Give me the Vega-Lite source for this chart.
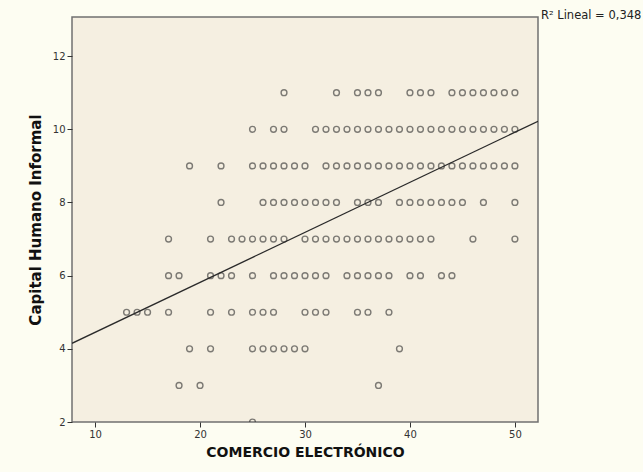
{
  "$schema": "https://vega.github.io/schema/vega-lite/v6.json",
  "width": 466,
  "height": 405,
  "autosize": "none",
  "padding": {"left": 72, "top": 17, "right": 105, "bottom": 50},
  "background": "#FDFDF2",
  "datasets": {
    "points": [
      {"comercio": 28, "capital": 11}, {"comercio": 33, "capital": 11}, {"comercio": 35, "capital": 11}, {"comercio": 36, "capital": 11}, {"comercio": 37, "capital": 11}, {"comercio": 40, "capital": 11}, {"comercio": 41, "capital": 11}, {"comercio": 42, "capital": 11}, {"comercio": 44, "capital": 11}, {"comercio": 45, "capital": 11}, {"comercio": 46, "capital": 11}, {"comercio": 47, "capital": 11}, {"comercio": 48, "capital": 11}, {"comercio": 49, "capital": 11}, {"comercio": 50, "capital": 11},
      {"comercio": 25, "capital": 10}, {"comercio": 27, "capital": 10}, {"comercio": 28, "capital": 10}, {"comercio": 31, "capital": 10}, {"comercio": 32, "capital": 10}, {"comercio": 33, "capital": 10}, {"comercio": 34, "capital": 10}, {"comercio": 35, "capital": 10}, {"comercio": 36, "capital": 10}, {"comercio": 37, "capital": 10}, {"comercio": 38, "capital": 10}, {"comercio": 39, "capital": 10}, {"comercio": 40, "capital": 10}, {"comercio": 41, "capital": 10}, {"comercio": 42, "capital": 10}, {"comercio": 43, "capital": 10}, {"comercio": 44, "capital": 10}, {"comercio": 45, "capital": 10}, {"comercio": 46, "capital": 10}, {"comercio": 47, "capital": 10}, {"comercio": 48, "capital": 10}, {"comercio": 49, "capital": 10}, {"comercio": 50, "capital": 10},
      {"comercio": 19, "capital": 9}, {"comercio": 22, "capital": 9}, {"comercio": 25, "capital": 9}, {"comercio": 26, "capital": 9}, {"comercio": 27, "capital": 9}, {"comercio": 28, "capital": 9}, {"comercio": 29, "capital": 9}, {"comercio": 30, "capital": 9}, {"comercio": 32, "capital": 9}, {"comercio": 33, "capital": 9}, {"comercio": 34, "capital": 9}, {"comercio": 35, "capital": 9}, {"comercio": 36, "capital": 9}, {"comercio": 37, "capital": 9}, {"comercio": 38, "capital": 9}, {"comercio": 39, "capital": 9}, {"comercio": 40, "capital": 9}, {"comercio": 41, "capital": 9}, {"comercio": 42, "capital": 9}, {"comercio": 43, "capital": 9}, {"comercio": 44, "capital": 9}, {"comercio": 45, "capital": 9}, {"comercio": 46, "capital": 9}, {"comercio": 47, "capital": 9}, {"comercio": 48, "capital": 9}, {"comercio": 49, "capital": 9}, {"comercio": 50, "capital": 9},
      {"comercio": 22, "capital": 8}, {"comercio": 26, "capital": 8}, {"comercio": 27, "capital": 8}, {"comercio": 28, "capital": 8}, {"comercio": 29, "capital": 8}, {"comercio": 30, "capital": 8}, {"comercio": 31, "capital": 8}, {"comercio": 32, "capital": 8}, {"comercio": 33, "capital": 8}, {"comercio": 35, "capital": 8}, {"comercio": 36, "capital": 8}, {"comercio": 37, "capital": 8}, {"comercio": 39, "capital": 8}, {"comercio": 40, "capital": 8}, {"comercio": 41, "capital": 8}, {"comercio": 42, "capital": 8}, {"comercio": 43, "capital": 8}, {"comercio": 44, "capital": 8}, {"comercio": 45, "capital": 8}, {"comercio": 47, "capital": 8}, {"comercio": 50, "capital": 8},
      {"comercio": 17, "capital": 7}, {"comercio": 21, "capital": 7}, {"comercio": 23, "capital": 7}, {"comercio": 24, "capital": 7}, {"comercio": 25, "capital": 7}, {"comercio": 26, "capital": 7}, {"comercio": 27, "capital": 7}, {"comercio": 28, "capital": 7}, {"comercio": 30, "capital": 7}, {"comercio": 31, "capital": 7}, {"comercio": 32, "capital": 7}, {"comercio": 33, "capital": 7}, {"comercio": 34, "capital": 7}, {"comercio": 35, "capital": 7}, {"comercio": 36, "capital": 7}, {"comercio": 37, "capital": 7}, {"comercio": 38, "capital": 7}, {"comercio": 39, "capital": 7}, {"comercio": 40, "capital": 7}, {"comercio": 41, "capital": 7}, {"comercio": 42, "capital": 7}, {"comercio": 46, "capital": 7}, {"comercio": 50, "capital": 7},
      {"comercio": 17, "capital": 6}, {"comercio": 18, "capital": 6}, {"comercio": 21, "capital": 6}, {"comercio": 22, "capital": 6}, {"comercio": 23, "capital": 6}, {"comercio": 25, "capital": 6}, {"comercio": 27, "capital": 6}, {"comercio": 28, "capital": 6}, {"comercio": 29, "capital": 6}, {"comercio": 30, "capital": 6}, {"comercio": 31, "capital": 6}, {"comercio": 32, "capital": 6}, {"comercio": 34, "capital": 6}, {"comercio": 35, "capital": 6}, {"comercio": 36, "capital": 6}, {"comercio": 37, "capital": 6}, {"comercio": 38, "capital": 6}, {"comercio": 40, "capital": 6}, {"comercio": 41, "capital": 6}, {"comercio": 43, "capital": 6}, {"comercio": 44, "capital": 6},
      {"comercio": 13, "capital": 5}, {"comercio": 14, "capital": 5}, {"comercio": 15, "capital": 5}, {"comercio": 17, "capital": 5}, {"comercio": 21, "capital": 5}, {"comercio": 23, "capital": 5}, {"comercio": 25, "capital": 5}, {"comercio": 26, "capital": 5}, {"comercio": 27, "capital": 5}, {"comercio": 30, "capital": 5}, {"comercio": 31, "capital": 5}, {"comercio": 32, "capital": 5}, {"comercio": 35, "capital": 5}, {"comercio": 36, "capital": 5}, {"comercio": 38, "capital": 5},
      {"comercio": 19, "capital": 4}, {"comercio": 21, "capital": 4}, {"comercio": 25, "capital": 4}, {"comercio": 26, "capital": 4}, {"comercio": 27, "capital": 4}, {"comercio": 28, "capital": 4}, {"comercio": 29, "capital": 4}, {"comercio": 30, "capital": 4}, {"comercio": 39, "capital": 4},
      {"comercio": 18, "capital": 3}, {"comercio": 20, "capital": 3}, {"comercio": 37, "capital": 3},
      {"comercio": 25, "capital": 2}
    ],
    "fit": [
      {"comercio": 7.8, "capital": 4.15},
      {"comercio": 52.2, "capital": 10.22}
    ],
    "note": [
      {"comercio": 52.2, "capital": 13.07, "label": "R² Lineal = 0,348"}
    ]
  },
  "layer": [
    {
      "data": {"name": "points"},
      "mark": {"type": "point", "shape": "circle", "filled": false, "size": 34, "stroke": "#2b2b2b", "strokeWidth": 1.4, "strokeOpacity": 0.85, "clip": true},
      "encoding": {
        "x": {"field": "comercio", "type": "quantitative", "title": "COMERCIO ELECTRÓNICO",
          "scale": {"domain": [7.8, 52.2], "nice": false, "zero": false},
          "axis": {"values": [10, 20, 30, 40, 50], "titlePadding": 6}},
        "y": {"field": "capital", "type": "quantitative", "title": "Capital Humano Informal",
          "scale": {"domain": [2, 13.07], "nice": false, "zero": false},
          "axis": {"values": [2, 4, 6, 8, 10, 12], "titlePadding": 9, "titleFontSize": 15}}
      }
    },
    {
      "data": {"name": "fit"},
      "mark": {"type": "line", "color": "#2a2a2a", "strokeWidth": 1.3, "clip": true},
      "encoding": {
        "x": {"field": "comercio", "type": "quantitative"},
        "y": {"field": "capital", "type": "quantitative"}
      }
    },
    {
      "data": {"name": "note"},
      "mark": {"type": "text", "align": "left", "baseline": "middle", "dx": 3, "dy": -1, "fontSize": 11.5, "font": "DejaVu Sans", "color": "#222222", "clip": false},
      "encoding": {
        "x": {"field": "comercio", "type": "quantitative"},
        "y": {"field": "capital", "type": "quantitative"},
        "text": {"field": "label"}
      }
    }
  ],
  "config": {
    "view": {"fill": "#F5EFE1", "stroke": "#707070", "strokeWidth": 1.5},
    "axis": {
      "domain": false,
      "grid": false,
      "ticks": true,
      "tickColor": "#333333",
      "tickSize": 5,
      "tickWidth": 1,
      "labelFont": "DejaVu Sans",
      "labelFontSize": 10,
      "labelColor": "#333333",
      "labelPadding": 2,
      "titleFont": "DejaVu Sans",
      "titleFontSize": 14,
      "titleFontWeight": "bold",
      "titleColor": "#111111"
    }
  }
}
